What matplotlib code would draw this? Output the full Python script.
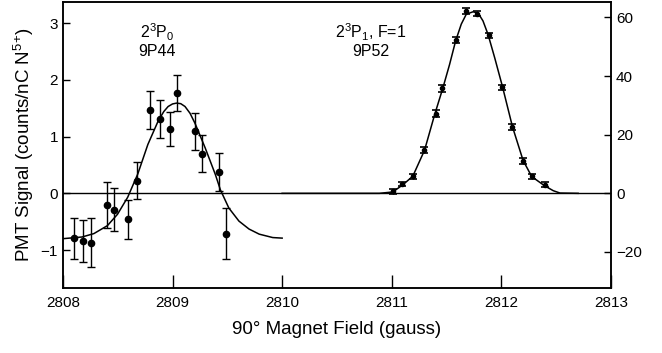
import matplotlib
matplotlib.use("Agg")
import matplotlib.pyplot as plt

plt.rcParams["font.family"] = ["Liberation Sans", "DejaVu Sans"]
plt.rcParams["mathtext.fontset"] = "custom"
plt.rcParams["mathtext.rm"] = "Liberation Sans"
plt.rcParams["mathtext.it"] = "Liberation Sans:italic"

# 2^3P0 (9P44) data, left axis (counts/nC)
p0_field = [2808.105, 2808.182, 2808.252, 2808.403, 2808.465, 2808.594, 2808.674, 2808.797,
            2808.886, 2808.975, 2809.043, 2809.206, 2809.271, 2809.422, 2809.492]
p0_signal = [-0.79, -0.84, -0.87, -0.21, -0.29, -0.46, 0.225, 1.47,
             1.31, 1.14, 1.77, 1.09, 0.70, 0.38, -0.71]
p0_err = [0.36, 0.375, 0.43, 0.41, 0.38, 0.34, 0.32, 0.34,
          0.33, 0.30, 0.32, 0.32, 0.32, 0.335, 0.45]

# fit curve
p0_fit_x = [2808.00, 2808.175, 2808.283, 2808.406, 2808.498, 2808.591, 2808.683, 2808.775,
            2808.868, 2808.92, 2808.960, 2809.00, 2809.037, 2809.075, 2809.114, 2809.16,
            2809.206, 2809.298, 2809.391, 2809.437, 2809.514, 2809.606, 2809.698, 2809.791,
            2809.914, 2810.00]
p0_fit_y = [-0.80, -0.77, -0.71, -0.57, -0.37, -0.07, 0.34, 0.86,
            1.27, 1.44, 1.53, 1.575, 1.59, 1.58, 1.53, 1.41,
            1.23, 0.80, 0.33, 0.06, -0.26, -0.49, -0.63, -0.72,
            -0.78, -0.79]

# 2^3P1, F=1 (9P52) data, right axis
p1_field = [2811.009, 2811.095, 2811.195, 2811.296, 2811.40, 2811.457, 2811.585, 2811.674,
            2811.774, 2811.884, 2812.009, 2812.098, 2812.195, 2812.277, 2812.396]
p1_signal = [0.7, 3.2, 5.85, 14.8, 27.2, 35.8, 52.3, 62.3,
             61.2, 53.9, 36.1, 22.6, 10.9, 5.85, 3.0]
p1_err = [0.8, 0.8, 0.9, 1.0, 1.1, 1.3, 1.1, 1.0,
          0.9, 0.9, 1.0, 1.0, 1.0, 0.9, 0.8]

p1_fit_x = [2810.00, 2810.887, 2811.009, 2811.101, 2811.192, 2811.299, 2811.390, 2811.466,
            2811.527, 2811.582, 2811.634, 2811.680, 2811.741, 2811.787, 2811.832, 2811.878,
            2811.939, 2812.009, 2812.101, 2812.198, 2812.277, 2812.393, 2812.473, 2812.534,
            2812.70]
p1_fit_y = [0.0, 0.0, 0.46, 2.9, 5.85, 14.7, 26.7, 35.9,
            43.9, 51.9, 57.7, 61.1, 61.9, 61.5, 58.8, 54.2,
            46.2, 36.5, 22.7, 11.2, 5.7, 2.6, 0.9, 0.1,
            0.0]

fig = plt.figure(figsize=(6.62, 3.53), dpi=100)
ax = fig.add_axes([0.095, 0.184, 0.828, 0.810])

ax.axhline(0, color="black", lw=1.0)
ax.plot(p0_fit_x, p0_fit_y, color="black", lw=1.1)
ax.errorbar(p0_field, p0_signal, yerr=p0_err, fmt="o", color="black", ms=4.5,
            elinewidth=1.0, capsize=3, capthick=1.0)

ax.set_xlim(2808, 2813)
ax.set_ylim(-1.67, 3.37)
ax.set_xticks([2808, 2809, 2810, 2811, 2812, 2813])
ax.set_yticks([-1, 0, 1, 2, 3])
ax.ticklabel_format(axis="x", useOffset=False)
ax.tick_params(axis="x", direction="in", length=9.5, width=1.0, labelsize=11, pad=6)
ax.tick_params(axis="y", direction="in", length=5, width=1.0, labelsize=11)
ax.set_xlabel("90° Magnet Field (gauss)", fontsize=13.5, labelpad=8)
ax.set_ylabel("PMT Signal (counts/nC N$^{5{+}}$)", fontsize=13.5, labelpad=3)

ax2 = ax.twinx()
ax2.plot(p1_fit_x, p1_fit_y, color="black", lw=1.1)
ax2.errorbar(p1_field, p1_signal, yerr=p1_err, fmt="o", color="black", ms=3,
             elinewidth=1.0, capsize=3, capthick=1.2)
ax2.set_ylim(-32.3, 65.2)
ax2.set_yticks([-20, 0, 20, 40, 60])
ax2.tick_params(axis="y", direction="in", length=5, width=1.0, labelsize=11)

for a in (ax, ax2):
    for s in a.spines.values():
        s.set_linewidth(1.1)

ax.text(2808.86, 2.70, "2$^3$P$_0$\n9P44", ha="center", va="center", fontsize=11.5,
        linespacing=1.1)
ax.text(2810.81, 2.70, "2$^3$P$_1$, F=1\n9P52", ha="center", va="center", fontsize=11.5,
        linespacing=1.1)

fig.savefig("out.png", dpi=100)
